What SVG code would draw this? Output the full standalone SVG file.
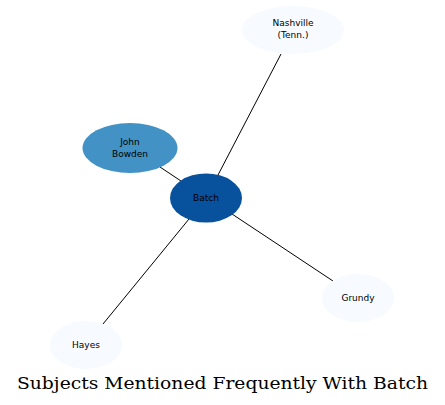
<svg xmlns="http://www.w3.org/2000/svg" width="445" height="405" viewBox="0 0 445 405">
<style>
.edge{stroke:#000;stroke-width:1;fill:none}
.lbl{font-family:"DejaVu Sans",sans-serif;font-size:9px;text-anchor:middle;fill:#000}
.light{fill:#f7fbff}
</style>
<rect width="445" height="405" fill="#fff"/>
<g id="connectors">
<line class="edge" x1="218" y1="175" x2="281" y2="54"/>
<line class="edge" x1="160" y1="167" x2="181" y2="181"/>
<line class="edge" x1="232" y1="214" x2="333" y2="281"/>
<line class="edge" x1="189" y1="219" x2="103" y2="324"/>
</g>
<g id="node-nashville">
<ellipse class="light" cx="293" cy="30" rx="51" ry="24"/>
<text class="lbl" x="293" y="26">Nashville</text>
<text class="lbl" x="293" y="38">(Tenn.)</text>
</g>
<g id="node-john-bowden">
<ellipse cx="130" cy="148" rx="47.5" ry="25" fill="#4292c6"/>
<text class="lbl" x="130" y="145">John</text>
<text class="lbl" x="130" y="157">Bowden</text>
</g>
<g id="node-batch">
<ellipse cx="206" cy="198" rx="36" ry="24.5" fill="#08519c"/>
<text class="lbl" x="206" y="201">Batch</text>
</g>
<g id="node-grundy">
<ellipse class="light" cx="358" cy="298" rx="36" ry="24"/>
<text class="lbl" x="358" y="301">Grundy</text>
</g>
<g id="node-hayes">
<ellipse class="light" cx="86" cy="345" rx="36" ry="24"/>
<text class="lbl" x="86" y="348">Hayes</text>
</g>
<text x="222.5" y="389" font-family="'DejaVu Serif',serif" font-size="16" text-anchor="middle" textLength="411" lengthAdjust="spacingAndGlyphs">Subjects Mentioned Frequently With Batch</text>
</svg>
